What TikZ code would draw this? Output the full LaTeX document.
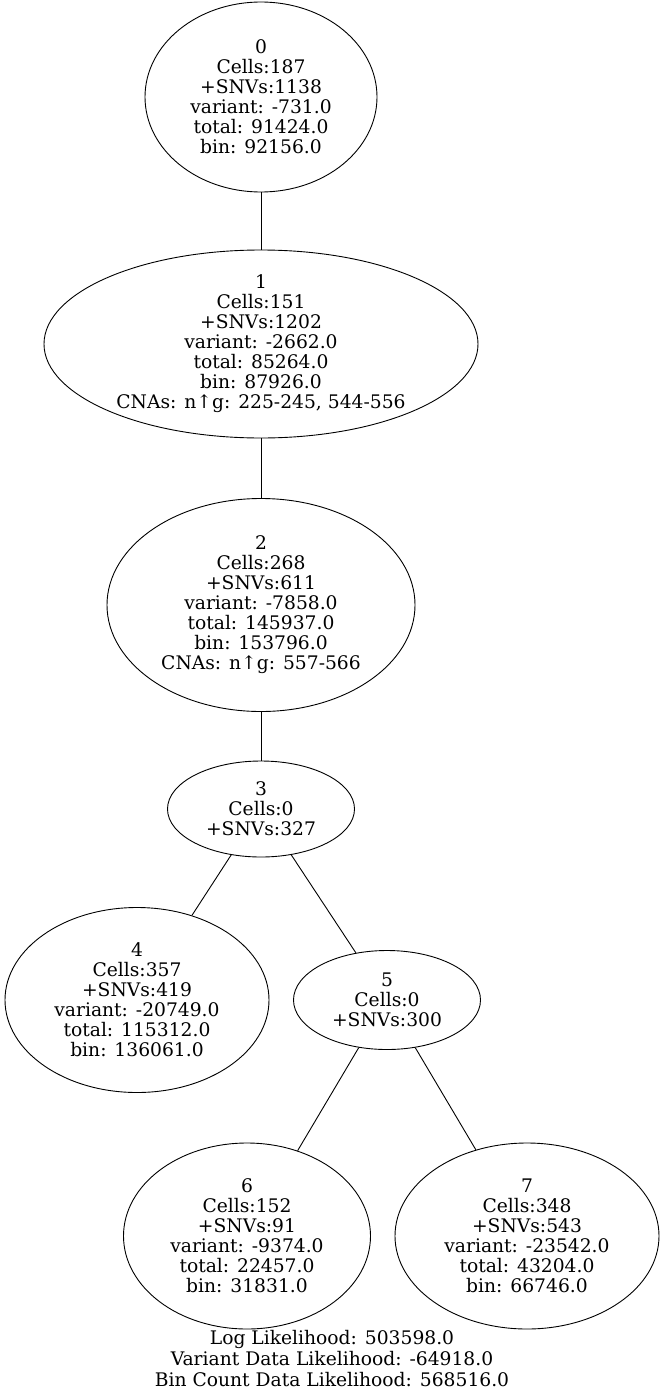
\documentclass[tikz,border=0pt]{standalone}
\usepackage{fontspec}
\setmainfont{DejaVu Serif}
\usepackage{tikz}
\usetikzlibrary{positioning,shapes.geometric}

\tikzset{
  clone/.style={ellipse, draw, line width=0.9pt, inner sep=-5pt, align=center,
    font=\fontsize{18.7}{20}\selectfont},
}

\begin{document}
\begin{tikzpicture}[on grid]

\useasboundingbox (0,0) rectangle (664pt,-1397pt);

% nodes %
\node[clone, minimum width=232pt, minimum height=190pt] (n0) at (261pt,-97pt)
  {0\\Cells:187\\+SNVs:1138\\variant: -731.0\\total: 91424.0\\bin: 92156.0};
\node[clone, minimum width=434pt, minimum height=188pt, below = 247pt of n0] (n1)
  {1\\Cells:151\\+SNVs:1202\\variant: -2662.0\\total: 85264.0\\bin: 87926.0\\CNAs: n↑g: 225-245, 544-556};
\node[clone, minimum width=308pt, minimum height=213pt, below = 261pt of n1] (n2)
  {2\\Cells:268\\+SNVs:611\\variant: -7858.0\\total: 145937.0\\bin: 153796.0\\CNAs: n↑g: 557-566};
\node[clone, minimum width=187pt, minimum height=96pt, below = 204pt of n2] (n3)
  {3\\Cells:0\\+SNVs:327};
\node[clone, minimum width=264pt, minimum height=185pt, below left = 191pt and 124pt of n3] (n4)
  {4\\Cells:357\\+SNVs:419\\variant: -20749.0\\total: 115312.0\\bin: 136061.0};
\node[clone, minimum width=187pt, minimum height=99pt, below right = 191pt and 126pt of n3] (n5)
  {5\\Cells:0\\+SNVs:300};
\node[clone, minimum width=247pt, minimum height=186pt, below left = 236pt and 140pt of n5] (n6)
  {6\\Cells:152\\+SNVs:91\\variant: -9374.0\\total: 22457.0\\bin: 31831.0};
\node[clone, minimum width=264pt, minimum height=186pt, below right = 236pt and 140pt of n5] (n7)
  {7\\Cells:348\\+SNVs:543\\variant: -23542.0\\total: 43204.0\\bin: 66746.0};
\node[align=center, inner sep=0pt, font=\fontsize{18.7}{21}\selectfont] (lik) at (332pt,-1359pt)
  {Log Likelihood: 503598.0\\Variant Data Likelihood: -64918.0\\Bin Count Data Likelihood: 568516.0};

% edges %
\draw[line width=0.9pt] (n0) -- (n1);
\draw[line width=0.9pt] (n1) -- (n2);
\draw[line width=0.9pt] (n2) -- (n3);
\draw[line width=0.9pt] (n3) -- (n4);
\draw[line width=0.9pt] (n3) -- (n5);
\draw[line width=0.9pt] (n5) -- (n6);
\draw[line width=0.9pt] (n5) -- (n7);

\end{tikzpicture}
\end{document}
